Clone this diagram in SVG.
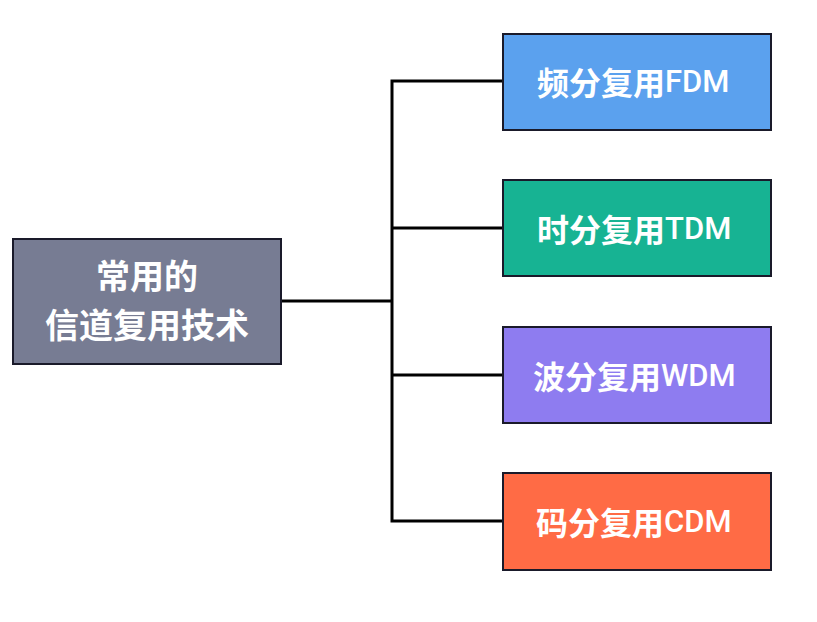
<svg xmlns="http://www.w3.org/2000/svg" width="817" height="622" viewBox="0 0 817 622">
<style>
.box{stroke:#1a1a2a;stroke-width:2}
.t{font-family:"Noto Sans CJK SC","Noto Sans",sans-serif;font-weight:bold;fill:#ffffff;dominant-baseline:central}
.m{text-anchor:middle}
.l{font-family:Roboto,"Liberation Sans",sans-serif;font-weight:500;font-size:31px}
.c{fill:none;stroke:#000;stroke-width:3}
</style>
<rect width="817" height="622" fill="#ffffff"/>
<g id="connectors">
<path class="c" d="M281 301 H392"/>
<path class="c" d="M503 81 H392 V521 H503"/>
<path class="c" d="M392 228 H503"/>
<path class="c" d="M392 375 H503"/>
</g>
<g id="root">
<rect class="box" x="13" y="239" width="268" height="125" fill="#777c93"/>
<text class="t m" x="147" y="274" font-size="34">常用的</text>
<text class="t m" x="147" y="323" font-size="34">信道复用技术</text>
</g>
<g id="fdm">
<rect class="box" x="503" y="34" width="268" height="96" fill="#5ba1ee"/>
<text class="t" x="537" y="81" font-size="32">频分复用<tspan class="l">FDM</tspan></text>
</g>
<g id="tdm">
<rect class="box" x="503" y="180" width="268" height="96" fill="#17b393"/>
<text class="t" x="537" y="228" font-size="32">时分复用<tspan class="l">TDM</tspan></text>
</g>
<g id="wdm">
<rect class="box" x="503" y="327" width="268" height="96" fill="#8e7cf0"/>
<text class="t" x="533" y="375" font-size="32">波分复用<tspan class="l">WDM</tspan></text>
</g>
<g id="cdm">
<rect class="box" x="503" y="473" width="268" height="97" fill="#ff6b45"/>
<text class="t" x="536" y="521" font-size="32">码分复用<tspan class="l">CDM</tspan></text>
</g>
</svg>
